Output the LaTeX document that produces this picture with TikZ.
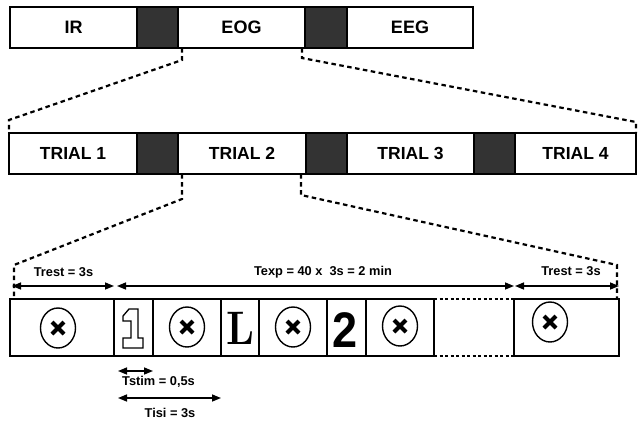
\documentclass[tikz,border=0pt]{standalone}
\usepackage{fontspec}
\newfontfamily\sansb{Liberation Sans}
\usetikzlibrary{arrows.meta,shapes.geometric,calc}
\definecolor{darkfill}{HTML}{333333}
\begin{document}
\begin{tikzpicture}[x=1pt,y=-1pt,
  box/.style={draw, line width=1.3pt, fill=white, inner sep=0pt, outer sep=0pt,
    font=\sansb\bfseries\fontsize{18}{20}\selectfont},
  tbox/.style={box, font=\sansb\bfseries\fontsize{17.5}{20}\selectfont},
  sep/.style={draw, line width=1.3pt, fill=darkfill, inner sep=0pt, outer sep=0pt},
  cell/.style={draw, line width=1.3pt, fill=white, inner sep=0pt, outer sep=0pt, minimum height=57pt},
  conn/.style={line width=2.2pt, dash pattern=on 4.5pt off 3.5pt},
  dotline/.style={line width=1.3pt, dash pattern=on 3pt off 2.5pt},
  dim/.style={line width=1.5pt, {Triangle[length=9pt,width=7pt]}-{Triangle[length=9pt,width=7pt]}},
  lab/.style={inner sep=0pt, font=\sansb\bfseries\fontsize{12.8}{14}\selectfont},
  fixn/.style={ellipse, draw, line width=1.4pt, minimum width=35pt, minimum height=40pt, inner sep=0pt,
    path picture={\draw[line width=4pt]
      ([shift={(-6pt,-6pt)}]path picture bounding box.center) -- ([shift={(6pt,6pt)}]path picture bounding box.center)
      ([shift={(-6pt,6pt)}]path picture bounding box.center) -- ([shift={(6pt,-6pt)}]path picture bounding box.center);}}
]
\useasboundingbox (0,0) rectangle (638,424);

% top row
\node[box, minimum width=127pt, minimum height=41pt] (ir) at (73.5,27.5) {IR};
\node[sep, minimum width=41pt, minimum height=41pt] (s1) at (157.5,27.5) {};
\node[box, minimum width=127pt, minimum height=41pt] (eog) at (241.5,27.5) {EOG};
\node[sep, minimum width=42pt, minimum height=41pt] (s2) at (326,27.5) {};
\node[box, minimum width=126pt, minimum height=41pt] (eeg) at (410,27.5) {EEG};

% trial row
\node[tbox, minimum width=128pt, minimum height=41pt] (t1) at (73,153.5) {TRIAL 1};
\node[sep, minimum width=41pt, minimum height=41pt] (u1) at (157.5,153.5) {};
\node[tbox, minimum width=128pt, minimum height=41pt] (t2) at (242,153.5) {TRIAL 2};
\node[sep, minimum width=41pt, minimum height=41pt] (u2) at (326.5,153.5) {};
\node[tbox, minimum width=127pt, minimum height=41pt] (t3) at (410.5,153.5) {TRIAL 3};
\node[sep, minimum width=41pt, minimum height=41pt] (u3) at (494.5,153.5) {};
\node[tbox, minimum width=121pt, minimum height=41pt] (t4) at (575.5,153.5) {TRIAL 4};

% stimulus row
\node[cell, minimum width=104pt] (r0) at (62,327.5) {};
\node[cell, minimum width=39pt] (r1) at (133.5,327.5) {};
\node[cell, minimum width=68pt] (r2) at (187,327.5) {};
\node[cell, minimum width=38pt] (r3) at (240,327.5) {};
\node[cell, minimum width=68pt] (r4) at (293,327.5) {};
\node[cell, minimum width=39pt] (r5) at (346.5,327.5) {};
\node[cell, minimum width=68pt] (r6) at (400,327.5) {};
\node[cell, minimum width=105pt] (rL) at (566.5,327.5) {};
\draw[dotline] (r6.north east) -- (rL.north west);
\draw[dotline] (r6.south east) -- (rL.south west);

% fixation crosses
\node[fixn] (f0) at (58,328) {};
\node[fixn] (f2) at (187,327) {};
\node[fixn] (f4) at (293,327) {};
\node[fixn] (f6) at (400,326) {};
\node[fixn] (fL) at (550,322) {};

% stimuli
\draw[line width=1.3pt, fill=white, line join=miter]
  (129,309) -- (138,309) -- (138,338) -- (143,338) -- (143,348) -- (123,348) -- (123,338)
  -- (131,338) -- (131,321) -- (123,321) -- (123,316) -- cycle;
\node[inner sep=0pt, font=\bfseries\fontsize{47}{47}\selectfont] (sL) at (240,328.5) {\scalebox{0.88}[1]{L}};
\node[inner sep=0pt, font=\sansb\bfseries\fontsize{50}{50}\selectfont] (s2d) at (345.5,330) {\scalebox{0.9}[1]{2}};

% dashed connectors
\draw[conn] ([xshift=4pt]eog.south west) -- ++(0,12) -- ([yshift=13pt]t1.north west) -- (t1.north west);
\draw[conn] ([xshift=-3pt]eog.south east) -- ++(0,10) -- ([yshift=11pt]t4.north east) -- (t4.north east);
\draw[conn] ([xshift=4pt]t2.south west) -- ++(0,25) -- ([xshift=4pt,yshift=34pt]r0.north west) -- ([xshift=4pt,yshift=3pt]r0.north west);
\draw[conn] ([xshift=-5pt]t2.south east) -- ++(0,21) -- ([xshift=-2pt,yshift=34pt]rL.north east) -- ([xshift=-2pt]rL.north east);

% dimension arrows
\draw[dim] ([xshift=2pt,yshift=13pt]r0.north west) -- ([yshift=13pt]r0.north east);
\draw[dim] ([xshift=3pt,yshift=13pt]r1.north west) -- ([yshift=13pt]rL.north west);
\draw[dim] ([xshift=1pt,yshift=13pt]rL.north west) -- ([yshift=13pt]rL.north east);
\draw[dim] ([xshift=4pt,yshift=-15pt]r1.south west) -- ([yshift=-15pt]r1.south east);
\draw[dim] ([xshift=4pt,yshift=-42pt]r1.south west) -- ([yshift=-42pt]r2.south east);

% labels
\node[lab] (trl) at (63.5,272) {Trest = 3s};
\node[lab] (texp) at (323,272) {Texp = 40 x\ \ 3s = 2 min};
\node[lab] (trr) at (571,271) {Trest = 3s};
\node[lab] (tstim) at (158.5,382) {Tstim = 0,5s};
\node[lab] (tisi) at (170,413) {Tisi = 3s};
\end{tikzpicture}
\end{document}
